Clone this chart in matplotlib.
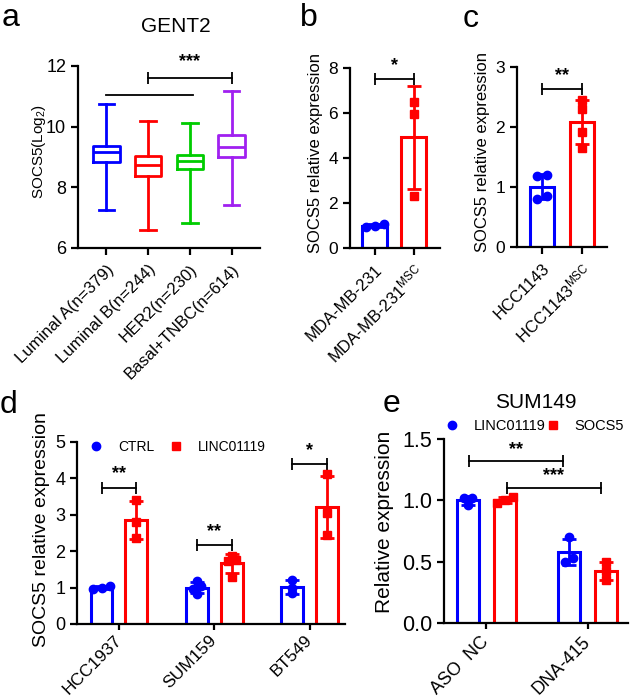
import matplotlib
matplotlib.use('Agg')
import matplotlib.pyplot as plt
import numpy as np

plt.rcParams['font.family'] = ['Liberation Sans', 'DejaVu Sans']
plt.rcParams['mathtext.fontset'] = 'custom'
plt.rcParams['mathtext.rm'] = 'Liberation Sans'
plt.rcParams['mathtext.it'] = 'Liberation Sans:italic'

BLUE = '#0000FF'
RED = '#FF0000'
GREEN = '#00CC00'
PURPLE = '#A020F0'

# panel a - GENT2 box plot
subtypes = ['Luminal A(n=379)', 'Luminal B(n=244)', 'HER2(n=230)', 'Basal+TNBC(n=614)']
gent_whislo = [7.25, 6.58, 6.84, 7.41]
gent_q1 = [8.85, 8.38, 8.62, 8.99]
gent_med = [9.17, 8.74, 8.88, 9.34]
gent_q3 = [9.37, 9.04, 9.06, 9.72]
gent_whishi = [10.76, 10.20, 10.13, 11.18]

# panel b
b_groups = ['MDA-MB-231', 'MDA-MB-231$^{\\mathrm{MSC}}$']
b_ctrl = [1.05, 1.0, 0.95]
b_msc = [6.5, 5.95, 2.3]

# panel c
c_groups = ['HCC1143', 'HCC1143$^{\\mathrm{MSC}}$']
c_ctrl = [1.2, 1.18, 0.85, 0.8]
c_msc = [2.45, 2.3, 1.92, 1.65]

# panel d
d_lines = ['HCC1937', 'SUM159', 'BT549']
d_ctrl = [[1.05, 1.0, 0.97], [1.18, 1.05, 0.95, 0.82], [1.22, 1.0, 0.85]]
d_linc = [[3.4, 2.8, 2.35], [1.88, 1.75, 1.72, 1.3], [4.12, 3.05, 2.45]]
d_stars = ['**', '**', '*']

# panel e
e_groups = ['ASO  NC', 'DNA-415']
e_linc = [[1.02, 1.02, 0.96], [0.70, 0.53, 0.50]]
e_socs = [[1.03, 1.0, 0.98], [0.50, 0.42, 0.35]]

W, H = 630, 700
fig = plt.figure(figsize=(6.3, 7), dpi=100)


def add_panel(l, t, r, b):
    # place an axes using pixel edges
    return fig.add_axes([l / W, 1 - b / H, (r - l) / W, (b - t) / H])


def style(ax, fs):
    for s in ['top', 'right']:
        ax.spines[s].set_visible(False)
    for s in ['left', 'bottom']:
        ax.spines[s].set_linewidth(1.6)
    ax.tick_params(width=1.6, length=5, labelsize=fs, direction='out')


def rot_labels(ax, labels, pad=4, va='top'):
    ax.set_xticklabels(labels, rotation=45, ha='right', va=va,
                       rotation_mode='anchor')
    ax.tick_params(axis='x', pad=pad)


def bracket(ax, x1, x2, y, text, dy, fs=13):
    ax.plot([x1, x2], [y, y], color='black', lw=1.3, marker='|', ms=8, mew=1.3,
            clip_on=False)
    ax.text((x1 + x2) / 2, y + dy, text, ha='center', va='center', fontsize=fs,
            fontweight='bold')


def spread(vals, tol, dx):
    # push points with nearly the same value apart sideways, like a scatter dot plot
    vals = np.asarray(vals, dtype=float)
    order = np.argsort(vals)
    offs = np.zeros(len(vals))
    groups = [[order[0]]]
    for k in order[1:]:
        if vals[k] - vals[groups[-1][-1]] < tol:
            groups[-1].append(k)
        else:
            groups.append([k])
    for g in groups:
        n = len(g)
        for j, k in enumerate(g):
            offs[k] = (j - (n - 1) / 2) * dx
    return offs


def bar_points(ax, x, vals, color, marker, width, tol, dx, ms=6):
    m = np.mean(vals)
    sd = np.std(vals, ddof=1)
    ax.bar(x, m, width, facecolor='white', edgecolor=color, linewidth=2.2, zorder=2)
    ax.errorbar(x, m, yerr=sd, color=color, capsize=5, elinewidth=2, capthick=2,
                zorder=3)
    ax.plot(x + spread(vals, tol, dx), vals, linestyle='none', marker=marker,
            color=color, ms=ms, zorder=4)


def panel_letter(x, y, s):
    fig.text(x / W, 1 - y / H, s, fontsize=23, ha='left', va='baseline')


# ---------------- panel a ----------------
ax = add_panel(78, 66, 260, 248)
stats = []
for i in range(len(subtypes)):
    stats.append(dict(med=gent_med[i], q1=gent_q1[i], q3=gent_q3[i],
                      whislo=gent_whislo[i], whishi=gent_whishi[i]))
pos = np.arange(len(subtypes))
bp = ax.bxp(stats, positions=pos, widths=0.64, capwidths=0.36, showfliers=False)
for i, c in enumerate([BLUE, RED, GREEN, PURPLE]):
    bp['boxes'][i].set(color=c, linewidth=2)
    bp['medians'][i].set(color=c, linewidth=2)
    for k in (2 * i, 2 * i + 1):
        bp['whiskers'][k].set(color=c, linewidth=2)
        bp['caps'][k].set(color=c, linewidth=2)
ax.set_xlim(-0.67, 3.67)
ax.set_ylim(6, 12)
ax.set_yticks([6, 8, 10, 12])
ax.set_xticks(pos)
style(ax, 13)
rot_labels(ax, subtypes, pad=5)
ax.tick_params(axis='x', labelsize=12)
ax.set_ylabel('SOCS5(Log$_2$)', fontsize=11)
ax.yaxis.set_label_coords(-0.165, 0.53)
ax.plot([0, 2.07], [11.05, 11.05], color='black', lw=1.3)
bracket(ax, 1, 3, 11.6, '***', 0.55)
ax.text(0.54, 1.0 + 39 / 182, 'GENT2', transform=ax.transAxes, ha='center',
        va='center', fontsize=15)
panel_letter(2, 26, 'a')

# ---------------- panel b ----------------
ax = add_panel(350, 68, 440, 248)
bar_points(ax, 0, b_ctrl, BLUE, 'o', 0.64, 0.25, 0.22)
bar_points(ax, 1, b_msc, RED, 's', 0.64, 0.25, 0.22)
ax.set_xlim(-0.64, 1.67)
ax.set_ylim(0, 8)
ax.set_yticks([0, 2, 4, 6, 8])
ax.set_xticks([0, 1])
style(ax, 12.5)
rot_labels(ax, b_groups, pad=5)
ax.tick_params(axis='x', labelsize=12)
ax.set_ylabel('SOCS5 relative expression', fontsize=12)
ax.yaxis.set_label_coords(-0.30, 0.53)
bracket(ax, 0, 1, 7.5, '*', 0.6)
panel_letter(300, 26, 'b')

# ---------------- panel c ----------------
ax = add_panel(517, 67, 607, 247)
bar_points(ax, 0, c_ctrl, BLUE, 'o', 0.6, 0.1, 0.25)
bar_points(ax, 1, c_msc, RED, 's', 0.6, 0.1, 0.25)
ax.set_xlim(-0.625, 1.625)
ax.set_ylim(0, 3)
ax.set_yticks([0, 1, 2, 3])
ax.set_xticks([0, 1])
style(ax, 12.5)
rot_labels(ax, c_groups, pad=5)
ax.tick_params(axis='x', labelsize=12)
ax.set_ylabel('SOCS5 relative expression', fontsize=12)
ax.yaxis.set_label_coords(-0.30, 0.53)
bracket(ax, 0, 1, 2.64, '**', 0.22)
panel_letter(463, 27, 'c')

# ---------------- panel d ----------------
ax = add_panel(77, 442, 345, 624)
off, bw = 0.183, 0.23
for i in range(len(d_lines)):
    bar_points(ax, i - off, d_ctrl[i], BLUE, 'o', bw, 0.12, 0.085)
    bar_points(ax, i + off, d_linc[i], RED, 's', bw, 0.12, 0.085)
ax.plot([], [], 'o', color=BLUE, ms=6, label='CTRL')
ax.plot([], [], 's', color=RED, ms=6, label='LINC01119')
ax.set_xlim(-0.44, 2.37)
ax.set_ylim(0, 5)
ax.set_yticks([0, 1, 2, 3, 4, 5])
ax.set_xticks(np.arange(len(d_lines)))
style(ax, 13)
rot_labels(ax, d_lines, pad=6, va='center')
ax.tick_params(axis='x', length=4, labelsize=12.5)
ax.set_ylabel('SOCS5 relative expression', fontsize=14)
ax.yaxis.set_label_coords(-0.10, 0.52)
for i, (y, s) in enumerate(zip([3.74, 2.17, 4.39], d_stars)):
    bracket(ax, i - off, i + off, y, s, 0.38)
ax.legend(loc='center left', bbox_to_anchor=(0.0, 0.975), ncol=2, frameon=False,
          fontsize=10, handletextpad=1.1, columnspacing=1.0, handlelength=1.0)
panel_letter(0, 413, 'd')

# ---------------- panel e ----------------
ax = add_panel(444, 439, 628, 623)
off, bw = 0.18, 0.22
for i in range(len(e_groups)):
    bar_points(ax, i - off, e_linc[i], BLUE, 'o', bw, 0.035, 0.08)
    bar_points(ax, i + off, e_socs[i], RED, 's', bw, 0.035, 0.08)
ax.plot([], [], 'o', color=BLUE, ms=6, label='LINC01119')
ax.plot([], [], 's', color=RED, ms=6, label='SOCS5')
ax.set_xlim(-0.42, 1.4)
ax.set_ylim(0, 1.5)
ax.set_yticks([0, 0.5, 1.0, 1.5])
ax.set_yticklabels(['0.0', '0.5', '1.0', '1.5'])
ax.set_xticks(np.arange(len(e_groups)))
style(ax, 15.5)
rot_labels(ax, e_groups, pad=8, va='center')
ax.tick_params(axis='x', labelsize=13, length=4)
ax.set_ylabel('Relative expression', fontsize=15)
ax.yaxis.set_label_coords(-0.27, 0.55)
bracket(ax, -0.17, 0.76, 1.317, '**', 0.1)
bracket(ax, 0.2, 1.13, 1.10, '***', 0.1)
ax.legend(loc='center left', bbox_to_anchor=(-0.07, 1.068), ncol=2, frameon=False,
          fontsize=10.5, handletextpad=1.0, columnspacing=0.0, handlelength=1.0)
ax.set_title('SUM149', fontsize=15, pad=22)
panel_letter(383, 412, 'e')

fig.savefig('out.png', dpi=100)
